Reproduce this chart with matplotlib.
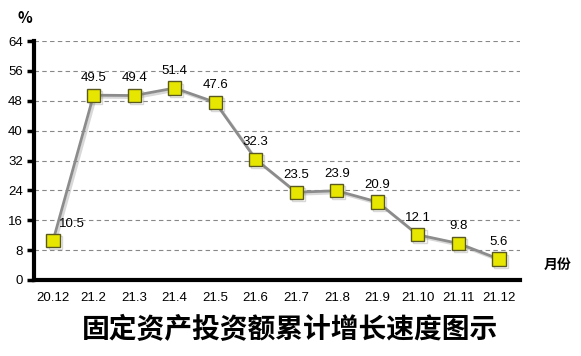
import matplotlib
matplotlib.use("Agg")
import matplotlib.pyplot as plt
import matplotlib.patheffects as pe

plt.rcParams['font.family'] = ['Noto Sans CJK SC', 'DejaVu Sans']

months = ['20.12', '21.2', '21.3', '21.4', '21.5', '21.6', '21.7', '21.8', '21.9', '21.10', '21.11', '21.12']
growth = [10.5, 49.5, 49.4, 51.4, 47.6, 32.3, 23.5, 23.9, 20.9, 12.1, 9.8, 5.6]
yticks = [0, 8, 16, 24, 32, 40, 48, 56, 64]

fig = plt.figure(figsize=(5.81, 3.56), dpi=100)
ax = fig.add_axes([0.0585, 0.2135, 0.8365, 0.6713])

x = list(range(len(months)))
shadow = [pe.SimpleLineShadow(offset=(1.5, -1.5), shadow_color='gray', alpha=0.3), pe.Normal()]
ax.plot(x, growth, color='#8c8c8c', lw=2, marker='s', markersize=9.5,
        markerfacecolor='#e6e600', markeredgecolor='#5a5a20', markeredgewidth=1,
        path_effects=shadow, zorder=3)

for i, v in enumerate(growth):
    if i == 0:
        ax.annotate(f'{v}', (i, v), xytext=(4, 8), textcoords='offset points',
                    ha='left', va='bottom', fontsize=9.5, family='Liberation Sans')
    else:
        ax.annotate(f'{v}', (i, v), xytext=(0, 8), textcoords='offset points',
                    ha='center', va='bottom', fontsize=9.5, family='Liberation Sans')

ax.set_xlim(-0.47, 11.52)
ax.set_ylim(0, 64)
ax.set_yticks(yticks)
ax.set_xticks(x)
ax.set_xticklabels(months, fontsize=9.5, family='Liberation Sans')
ax.set_yticklabels([str(t) for t in yticks], fontsize=9.5, family='Liberation Sans')
ax.tick_params(axis='y', length=5, width=2.5, pad=3)
ax.tick_params(axis='x', length=0, pad=9)
ax.yaxis.grid(True, linestyle=(0, (4, 3)), color='#888888', lw=0.8)
ax.set_axisbelow(True)
for s in ['top', 'right']:
    ax.spines[s].set_visible(False)
ax.spines['left'].set_linewidth(3)
ax.spines['bottom'].set_linewidth(3)

fig.text(0.03, 0.95, '%', fontsize=11, fontweight='bold', ha='left', va='center')
fig.text(0.935, 0.255, '月份', fontsize=10, fontweight='bold', ha='left', va='center')
fig.text(0.5, 0.072, '固定资产投资额累计增长速度图示', fontsize=20, fontweight='bold',
         ha='center', va='center')

fig.savefig('out.png', dpi=100)
